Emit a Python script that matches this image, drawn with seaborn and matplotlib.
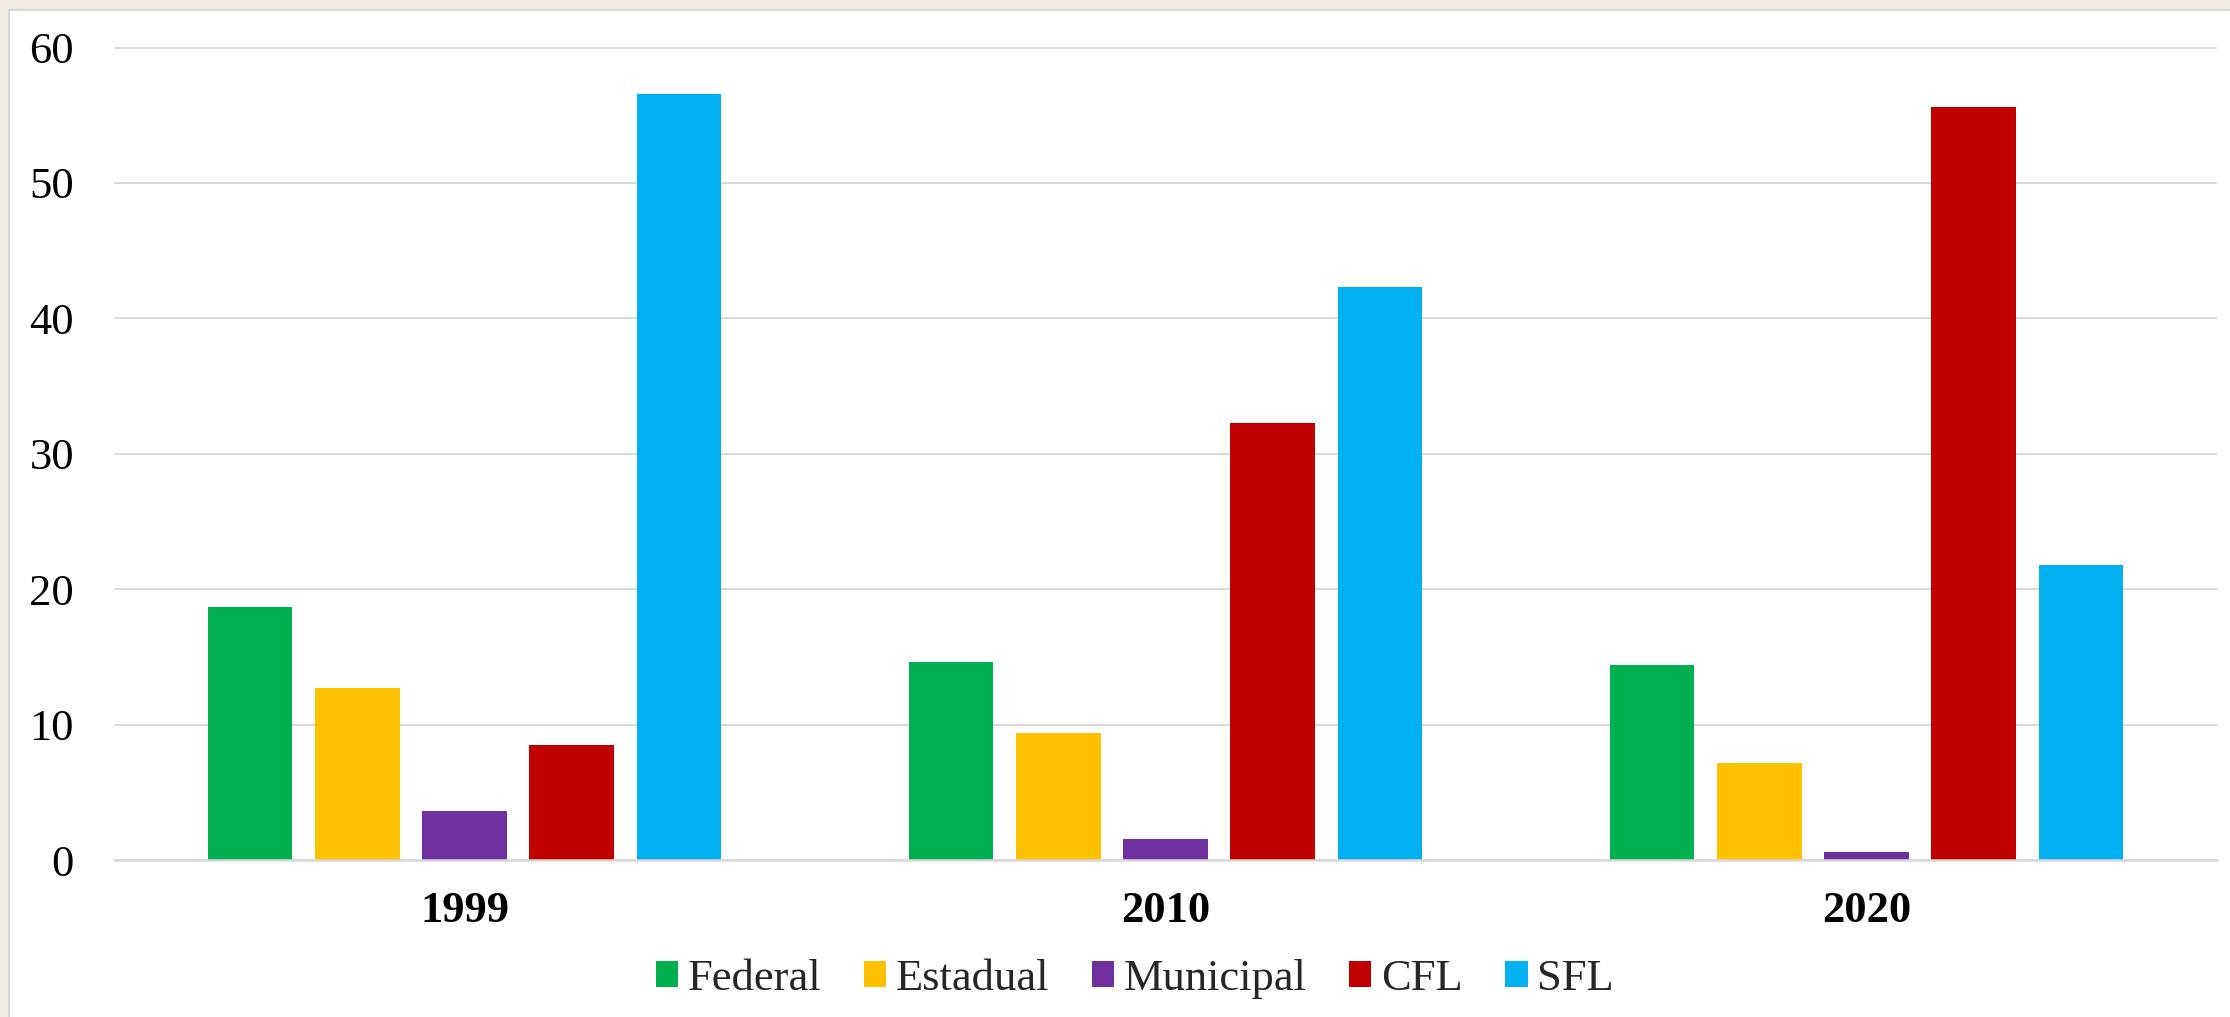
import numpy as np
import pandas as pd
import matplotlib.pyplot as plt
import seaborn as sns
from matplotlib.patches import Rectangle

# values
years = ['1999', '2010', '2020']
federal = [18.7, 14.65, 14.4]
estadual = [12.7, 9.35, 7.2]
municipal = [3.65, 1.55, 0.6]
cfl = [8.5, 32.3, 55.6]
sfl = [56.6, 42.3, 21.8]

series = ['Federal', 'Estadual', 'Municipal', 'CFL', 'SFL']
colors = ['#00B050', '#FFC000', '#7030A0', '#C00000', '#00B0F0']
y_ticks = [0, 10, 20, 30, 40, 50, 60]

df = pd.DataFrame({'Ano': years, 'Federal': federal, 'Estadual': estadual,
                   'Municipal': municipal, 'CFL': cfl, 'SFL': sfl})
long = df.melt(id_vars='Ano', var_name='Tipo', value_name='Valor')

sns.set_style('white')
plt.rcParams['font.family'] = ['Liberation Serif', 'DejaVu Serif']

W, H = 2230, 1017
fig = plt.figure(figsize=(W / 100, H / 100), dpi=100)
fig.patch.set_facecolor('white')

# beige frame on top / left edge like the slide screenshot
fig.add_artist(Rectangle((0, 1 - 9 / H), 1, 9 / H, transform=fig.transFigure,
                         color='#EFEBE3', lw=0, zorder=0))
fig.add_artist(Rectangle((0, 0), 8 / W, 1, transform=fig.transFigure,
                         color='#EFEBE3', lw=0, zorder=0))
fig.add_artist(Rectangle((8 / W, 1 - 10.5 / H), 1, 1.6 / H, transform=fig.transFigure,
                         color='#D6D6D6', lw=0, zorder=1))
fig.add_artist(Rectangle((8 / W, 0), 1.6 / W, 1 - 9 / H, transform=fig.transFigure,
                         color='#D6D6D6', lw=0, zorder=1))

left, right = 114 / W, 2217 / W
bottom = 1 - 860 / H
top = 1 - (860 - 61 * 13.54) / H
ax = fig.add_axes([left, bottom, right - left, top - bottom])

sns.barplot(data=long, x='Ano', y='Valor', hue='Tipo', hue_order=series,
            palette=colors, saturation=1, width=0.765, gap=0.208,
            errorbar=None, linewidth=0, ax=ax)

ax.set_ylim(0, 61)
ax.set_yticks(y_ticks)
ax.grid(axis='y', color='#D9D9D9', lw=1.4)
ax.set_axisbelow(True)
for s in ['left', 'top', 'right']:
    ax.spines[s].set_visible(False)
ax.spines['bottom'].set_color('#D9D9D9')
ax.spines['bottom'].set_linewidth(1.8)
ax.tick_params(axis='both', length=0, colors='black')
ax.tick_params(axis='y', labelsize=32, pad=28.8)
ax.tick_params(axis='x', labelsize=32, pad=22)
for lab in ax.get_xticklabels():
    lab.set_fontweight('bold')
ax.set_xlabel('')
ax.set_ylabel('')

handles, labels = ax.get_legend_handles_labels()
ax.get_legend().remove()
fig.legend(handles, labels, loc='center', bbox_to_anchor=(1135 / W, 1 - 978.7 / H),
           ncol=5, frameon=False, fontsize=32, handlelength=0.5, handleheight=0.5,
           handletextpad=0.225, columnspacing=0.95, borderaxespad=0, borderpad=0)

fig.savefig('out.png', dpi=100)
